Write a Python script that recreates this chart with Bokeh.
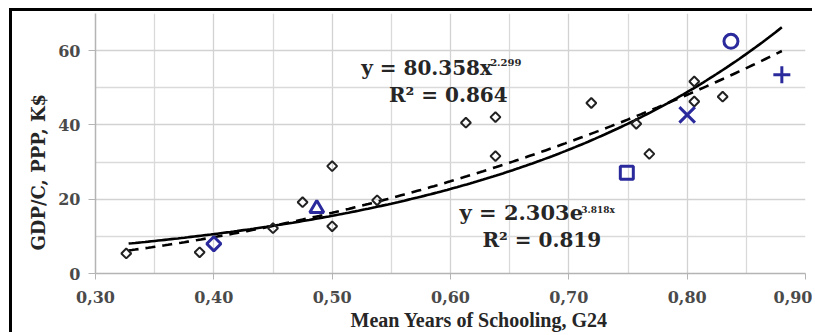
import numpy as np
from bokeh.plotting import figure
from bokeh.models import FixedTicker, Label, Range1d, Title
from bokeh.embed import file_html
from bokeh.resources import INLINE

# ---- data ----
x_ticks = [0.30, 0.40, 0.50, 0.60, 0.70, 0.80, 0.90]
x_tick_labels = ["0,30", "0,40", "0,50", "0,60", "0,70", "0,80", "0,90"]
x_minor = [0.35, 0.45, 0.55, 0.65, 0.75, 0.85]
y_ticks = [0, 20, 40, 60]
y_tick_labels = ["0", "20", "40", "60"]
y_minor = [10, 30, 50]

obs_x = [0.326, 0.388, 0.450, 0.475, 0.500, 0.500, 0.538, 0.613, 0.638, 0.638,
         0.719, 0.757, 0.768, 0.806, 0.806, 0.830]
obs_y = [5.4, 5.7, 12.2, 19.2, 28.9, 12.7, 19.7, 40.6, 42.1, 31.6,
         45.9, 40.3, 32.2, 51.7, 46.3, 47.6]

hi_x = [0.400, 0.487, 0.749, 0.800, 0.837, 0.880]
hi_y = [8.0, 17.5, 27.1, 42.7, 62.5, 53.5]
hi_marker = ["diamond", "triangle", "square", "x", "circle", "cross"]

pow_a, pow_b = 80.358, 2.299
exp_a, exp_b = 2.303, 3.818
fit_x0, fit_x1 = 0.328, 0.880

eq_pow = "y = 80.358x"
eq_pow_sup = "2.299"
r2_pow = "R² = 0.864"
eq_exp = "y = 2.303e"
eq_exp_sup = "3.818x"
r2_exp = "R² = 0.819"
x_title = "Mean Years of Schooling, G24"
y_title = "GDP/C, PPP, K$"

BLUE = "#2a2a9c"
SERIF = "DejaVu Serif"

p = figure(width=803, height=324, output_backend="svg", toolbar_location=None,
           x_range=Range1d(0.30, 0.90), y_range=Range1d(0, 70),
           min_border_left=83, min_border_right=10, min_border_top=2,
           min_border_bottom=62, background_fill_color="white",
           border_fill_color="white", outline_line_color=None)
p.styles = {"margin-top": "8px", "margin-left": "9px",
            "border-top": "3px solid black", "border-left": "3px solid black"}

p.xaxis.ticker = FixedTicker(ticks=x_ticks, minor_ticks=x_minor)
p.yaxis.ticker = FixedTicker(ticks=y_ticks, minor_ticks=y_minor)
p.xaxis.major_label_overrides = {t: l for t, l in zip(x_ticks, x_tick_labels)}
p.yaxis.major_label_overrides = {t: l for t, l in zip(y_ticks, y_tick_labels)}

for ax in (p.xaxis, p.yaxis):
    ax.axis_line_color = "#b4b4b4"
    ax.axis_line_width = 1.5
    ax.major_tick_line_color = "#b4b4b4"
    ax.major_tick_in = 0
    ax.minor_tick_line_color = None
    ax.major_label_text_font = SERIF
    ax.major_label_text_font_style = "bold"
    ax.major_label_text_font_size = "16px"
    ax.major_label_text_color = "#4a4a4a"
p.yaxis.major_tick_out = 7
p.yaxis.major_label_standoff = 8
p.xaxis.major_tick_out = 6
p.xaxis.major_label_standoff = 11

for g in (p.xgrid, p.ygrid):
    g.grid_line_color = "#d2d2d2"
    g.grid_line_width = 1.3
    g.minor_grid_line_color = "#dadada"
    g.minor_grid_line_width = 1.3
p.xgrid.ticker = p.xaxis.ticker
p.ygrid.ticker = p.yaxis.ticker

# trend lines
fx = np.linspace(fit_x0, fit_x1, 200)
p.line(fx, exp_a * np.exp(exp_b * fx), line_color="black", line_width=2.6)
p.line(fx, pow_a * fx ** pow_b, line_color="black", line_width=2.6, line_dash="10 7")

# observations
p.scatter(obs_x, obs_y, marker="square", angle=np.pi / 4, size=7,
          fill_color=None, line_color="#222222", line_width=2)

sizes = {"diamond": 13, "triangle": 14, "square": 13, "x": 22, "circle": 14, "cross": 17}
for mx, my, mk in zip(hi_x, hi_y, hi_marker):
    if mk == "diamond":
        p.scatter([mx], [my], marker="square", angle=np.pi / 4, size=10,
                  fill_color=None, line_color=BLUE, line_width=3)
    else:
        p.scatter([mx], [my], marker=mk, size=sizes[mk],
                  fill_color=None, line_color=BLUE, line_width=3)

# equations
def lab(x, y, text, size, **kw):
    p.add_layout(Label(x=x, y=y, text=text, text_font=SERIF, text_font_style="bold",
                       text_font_size=size, text_color="#262626",
                       text_baseline="middle", **kw))

lab(0.5245, 55.3, eq_pow, "20px")
lab(0.6335, 56.8, eq_pow_sup, "10px")
lab(0.548, 48.1, r2_pow, "20px")
lab(0.6076, 16.3, eq_exp, "21px")
lab(0.7105, 17.0, eq_exp_sup, "9px")
lab(0.627, 9.1, r2_exp, "20px")

# axis titles (as side titles, for precise placement)
p.add_layout(Title(text=x_title, align="left", offset=255, standoff=2,
                   text_font="Liberation Serif", text_font_style="bold",
                   text_font_size="20px", text_color="#262626"), "below")
p.add_layout(Title(text=y_title, align="left", offset=23, standoff=14,
                   text_font=SERIF, text_font_style="bold",
                   text_font_size="18px", text_color="#262626"), "left")

open("out.html", "w").write(file_html(p, INLINE))
